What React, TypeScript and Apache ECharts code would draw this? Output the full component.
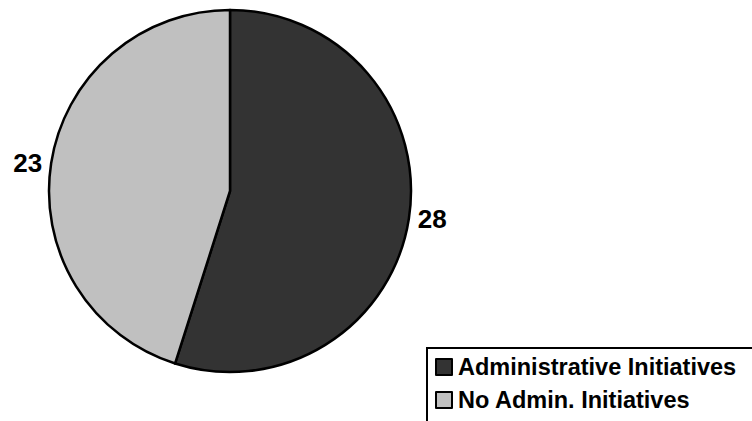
import React, { useEffect, useRef } from "react";
import * as echarts from "echarts";

const categories = ["Administrative Initiatives", "No Admin. Initiatives"];
const values = [28, 23];
const colors = ["#333333", "#C0C0C0"];

export default function App() {
  const ref = useRef<HTMLDivElement>(null);
  useEffect(() => {
    if (!ref.current) return;
    const chart = echarts.init(ref.current, null, { renderer: "svg" });
    const data = categories.map((name, i) => ({
      name,
      value: values[i],
      itemStyle: { color: colors[i] },
    }));
    chart.setOption({
      animation: false,
      backgroundColor: "#ffffff",
      textStyle: { fontFamily: "Liberation Sans, Arial, sans-serif" },
      legend: {
        orient: "vertical",
        left: 427,
        top: 348,
        height: 120,
        padding: [7, 60, 30, 8],
        itemWidth: 16,
        itemHeight: 16,
        itemGap: 9,
        icon: "rect",
        borderColor: "#000000",
        borderWidth: 2,
        backgroundColor: "#ffffff",
        itemStyle: { borderColor: "#000000", borderWidth: 2 },
        textStyle: {
          fontFamily: "Liberation Sans, Arial, sans-serif",
          fontWeight: "bold",
          fontSize: 23.5,
          color: "#000000",
          padding: [0, 0, 0, 1],
        },
        data: categories,
      },
      series: [
        {
          type: "pie",
          center: [230, 191],
          radius: 181,
          startAngle: 90,
          clockwise: true,
          itemStyle: { borderColor: "#000000", borderWidth: 2.5 },
          label: {
            show: true,
            position: "outside",
            formatter: "{c}",
            fontFamily: "Liberation Sans, Arial, sans-serif",
            fontWeight: "bold",
            fontSize: 26,
            color: "#000000",
            distanceToLabelLine: 5,
          },
          labelLine: { show: false, length: 4, length2: 0 },
          emphasis: { disabled: true },
          data,
        },
      ],
    });
    return () => chart.dispose();
  }, []);
  return (
    <div
      ref={ref}
      style={{ position: "fixed", left: 0, top: 0, width: 752, height: 421 }}
    />
  );
}
